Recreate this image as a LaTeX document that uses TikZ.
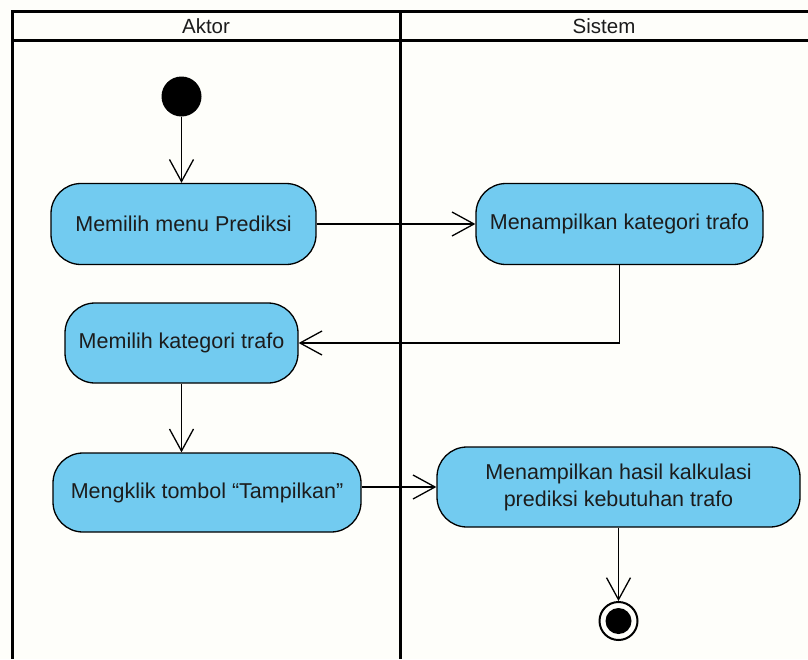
\documentclass[tikz,border=0pt]{standalone}
\usepackage{fontspec}
\setmainfont{Liberation Sans}
\usetikzlibrary{arrows.meta}
\definecolor{actfill}{RGB}{114,203,240}
\definecolor{txt}{RGB}{28,28,28}
\definecolor{paper}{RGB}{254,254,250}
\begin{document}
\begin{tikzpicture}[x=1pt,y=-1pt,
  lane/.style={line width=3pt, draw=black},
  activity/.style={rectangle, rounded corners=30pt, draw=black, line width=1.3pt,
    fill=actfill, text=txt, font=\fontsize{21.5}{27}\selectfont, align=center,
    inner sep=0pt},
  flow/.style={line width=1.3pt, -{Straight Barb[length=22pt,width=24pt,line width=1.3pt]}},
  lanetitle/.style={font=\fontsize{20.5}{24}\selectfont, text=txt}]
  % page
  \fill[paper] (0,0) rectangle (808,659);
  \useasboundingbox (0,0) rectangle (808,659);

  % swimlane frame
  \draw[lane] (808,11.5) -- (12,11.5) -- (12,659);
  \draw[lane] (12,40) -- (808,40);
  \draw[lane] (400,11.5) -- (400,659);
  \node[lanetitle] (laneA) at (206,26) {Aktor};
  \node[lanetitle] (laneS) at (604,26) {Sistem};

  % initial node
  \node[circle, fill=black, minimum size=40pt, inner sep=0pt] (start) at (181.5,96.5) {};

  % activities
  \node[activity, minimum width=265pt, minimum height=81pt] (n1) at (183.5,224) {Memilih menu Prediksi};
  \node[activity, minimum width=287pt, minimum height=81pt] (n2) at (619.5,224) {Menampilkan kategori trafo};
  \node[activity, minimum width=233pt, minimum height=80pt] (n3) at (181.5,343) {Memilih kategori trafo};
  \node[activity, minimum width=308pt, minimum height=79pt] (n4) at (207,492.5) {Mengklik tombol “Tampilkan”};
  \node[activity, minimum width=363pt, minimum height=80pt] (n5) at (618.5,487) {Menampilkan hasil kalkulasi\\prediksi kebutuhan trafo};

  % final node
  \node[circle, draw=black, line width=2pt, minimum size=38pt, inner sep=0pt] (end) at (618.5,621) {};
  \fill[black] (end.center) circle (13pt);

  % control flows
  \draw[flow] (start) -- (start |- n1.north);
  \draw[flow] (n1) -- (n2);
  \draw[flow] (n2.south) |- (n3.east);
  \draw[flow] (n3.south) -- (n3.south |- n4.north);
  \draw[flow] (n4.east |- n5.west) -- (n5.west);
  \draw[flow] (n5.south) -- (end.north);
\end{tikzpicture}
\end{document}
